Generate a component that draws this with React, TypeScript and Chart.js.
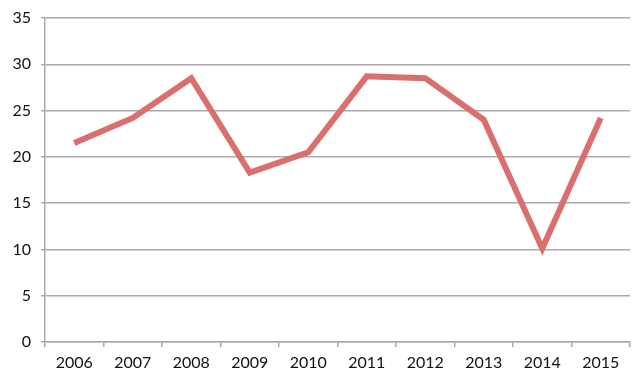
import React, { useEffect, useRef } from "react";
import { Chart, registerables } from "chart.js";

Chart.register(...registerables);

const categories = ["2006", "2007", "2008", "2009", "2010", "2011", "2012", "2013", "2014", "2015"];
const values = [21.5, 24.2, 28.5, 18.3, 20.5, 28.7, 28.5, 24.0, 10.1, 24.2];
const yTicks = [0, 5, 10, 15, 20, 25, 30, 35];

export default function App() {
  const ref = useRef<HTMLCanvasElement | null>(null);
  useEffect(() => {
    document.body.style.margin = "0";
    if (!ref.current) return;
    const chart = new Chart(ref.current, {
      type: "line",
      data: {
        labels: categories,
        datasets: [
          {
            data: values,
            borderColor: "#d9706d",
            borderWidth: 6,
            pointRadius: 0,
            tension: 0,
            fill: false,
            borderJoinStyle: "miter",
          },
        ],
      },
      options: {
        animation: false,
        responsive: false,
        devicePixelRatio: 1,
        layout: { padding: { top: 18, right: 10, left: 0, bottom: 0 } },
        plugins: { legend: { display: false }, tooltip: { enabled: false } },
        scales: {
          x: {
            offset: true,
            grid: {
              offset: true,
              drawOnChartArea: false,
              drawTicks: true,
              tickLength: 5,
              color: "#aaaaaa",
              lineWidth: 1.5,
            },
            border: { color: "#aaaaaa", width: 1.5 },
            ticks: { color: "#111111", font: { family: "Lato", size: 16 }, padding: 6, maxRotation: 0 },
            afterFit: (s: any) => {
              s.height = 40;
            },
          },
          y: {
            min: 0,
            max: 35,
            afterBuildTicks: (s: any) => {
              s.ticks = yTicks.map((v) => ({ value: v }));
            },
            grid: { color: "#aaaaaa", lineWidth: 1.5, tickLength: 4 },
            border: { color: "#aaaaaa", width: 1.5 },
            ticks: { color: "#111111", font: { family: "Lato", size: 16, lineHeight: 1 }, padding: 10 },
            afterFit: (s: any) => {
              s.width = 45;
            },
          },
        },
      },
    });
    return () => chart.destroy();
  }, []);
  return (
    <div style={{ width: 640, height: 382 }}>
      <canvas ref={ref} width={640} height={382} style={{ display: "block" }} />
    </div>
  );
}
